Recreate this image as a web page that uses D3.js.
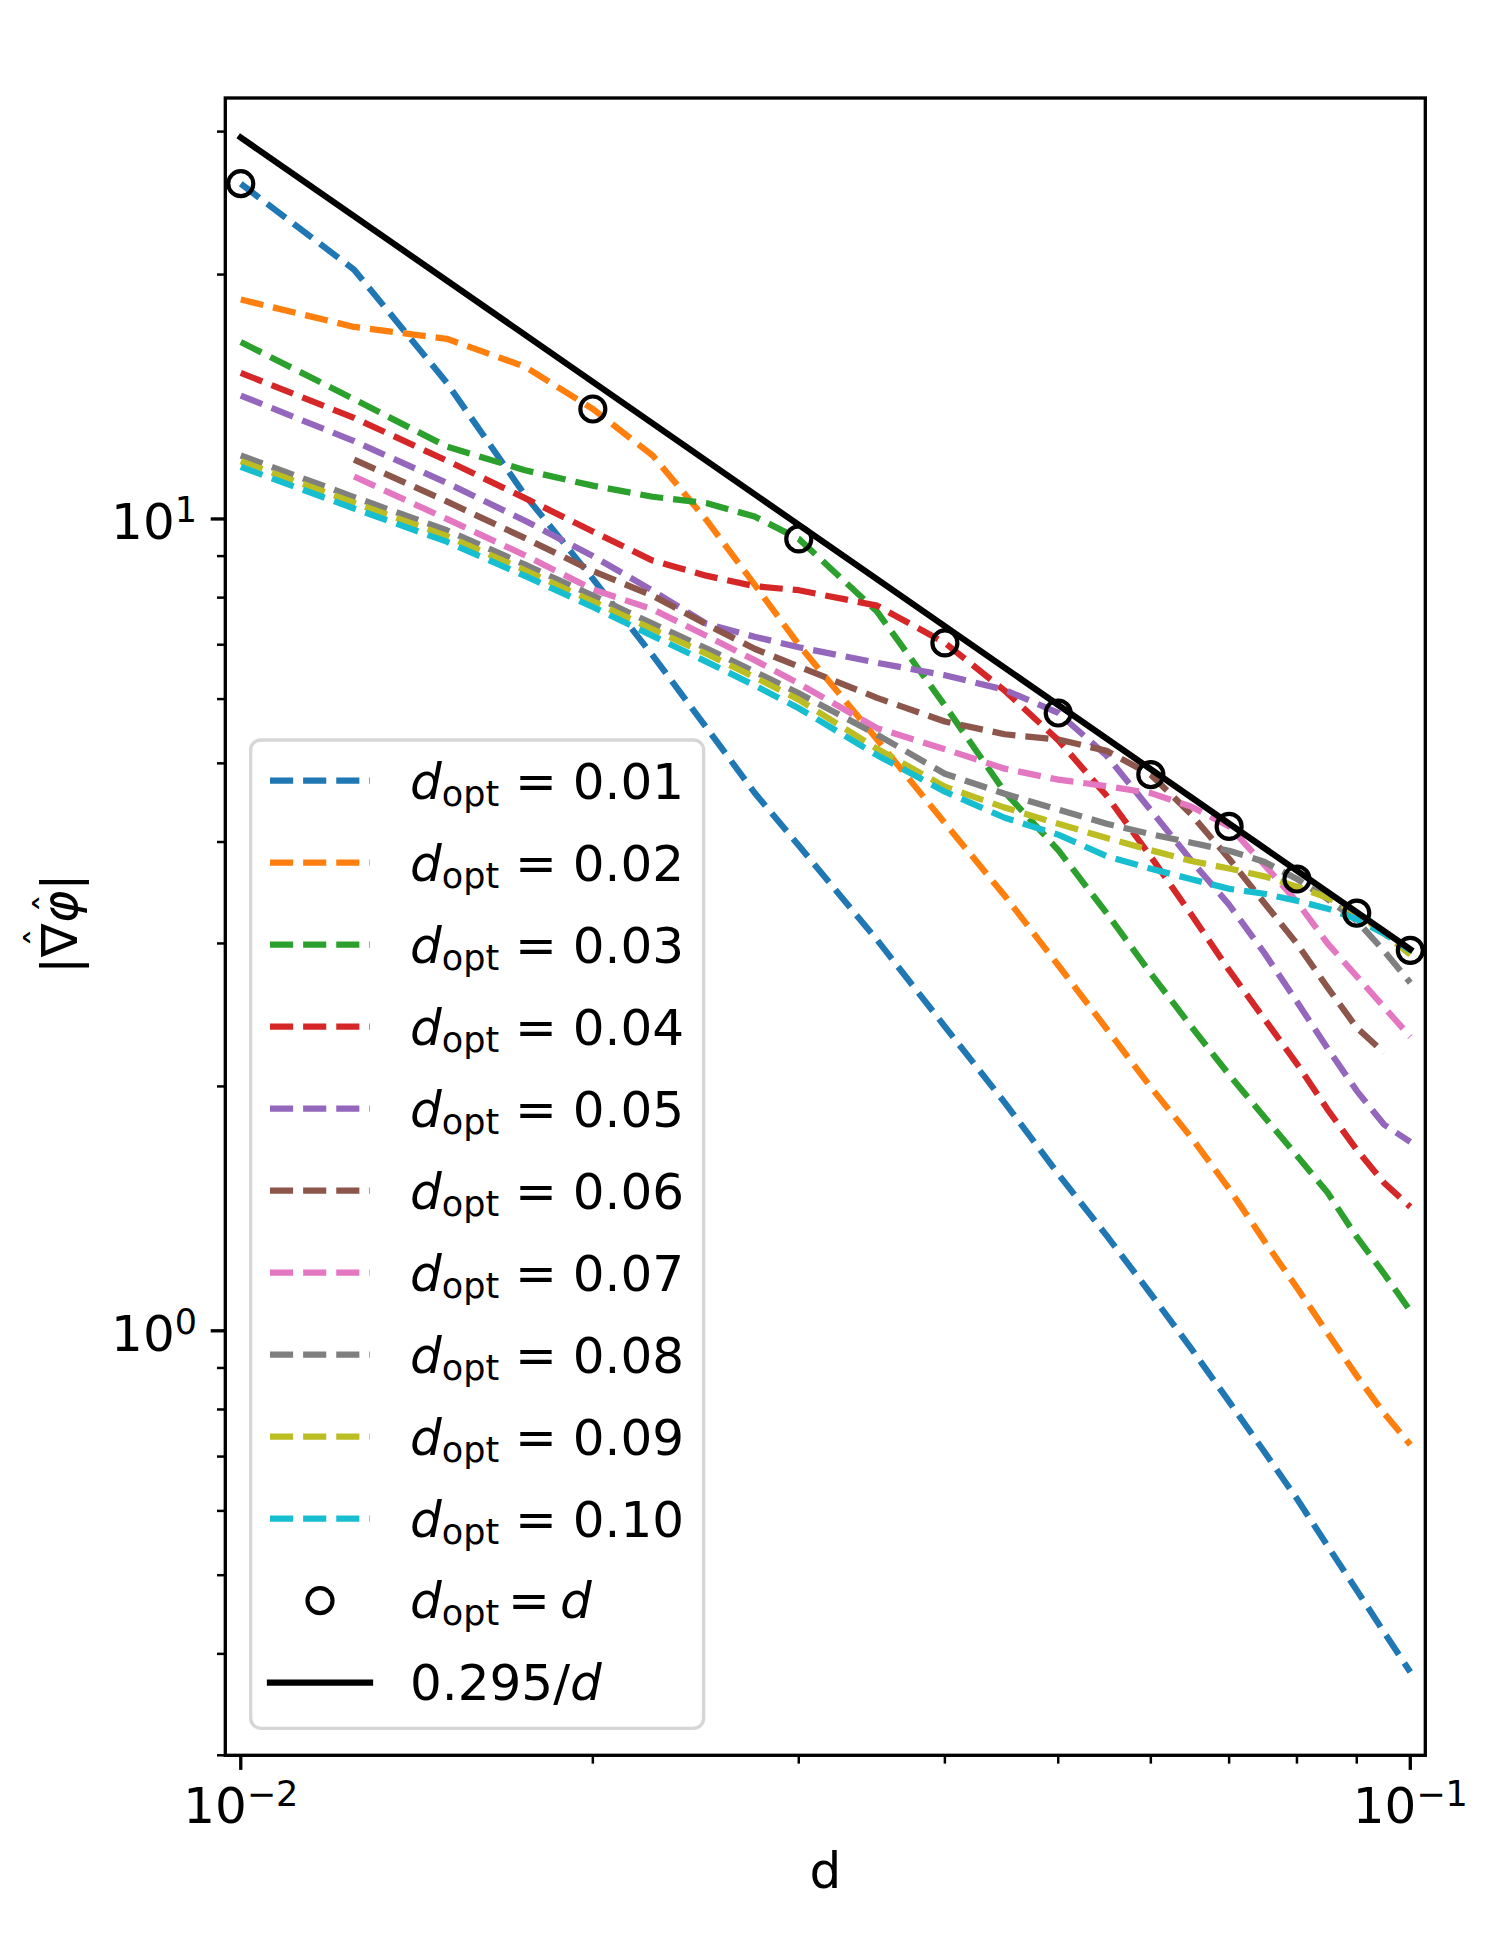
<!DOCTYPE html>
<html>
<head>
<meta charset="utf-8">
<script src="https://cdn.jsdelivr.net/npm/d3@7/dist/d3.min.js"></script>
<style>
  html,body{margin:0;padding:0;background:#fff;}
  svg{display:block;}
  text{font-family:"DejaVu Sans",sans-serif;white-space:pre;fill:#000;}
</style>
</head>
<body>
<svg id="fig" width="1500" height="1950" xmlns="http://www.w3.org/2000/svg"></svg>
<script>
// ---------------- data ----------------
const dGrid = [0.01,0.0125,0.015,0.0175,0.02,0.0225,0.025,0.0275,0.03,0.035,0.04,0.045,0.05,0.055,0.06,0.065,0.07,0.075,0.08,0.085,0.09,0.095,0.1];
const dOptLabels = ["0.01","0.02","0.03","0.04","0.05","0.06","0.07","0.08","0.09","0.10"];
const grad_d001 = [25.88,20.28,14.72,10.7,8.44,6.79,5.54,4.60,3.96,3.03,2.37,1.91,1.56,1.31,1.11,0.95,0.818,0.710,0.621,0.543,0.479,0.425,0.380];
const grad_d002 = [18.63,17.24,16.67,15.4,13.66,11.97,9.98,8.30,7.0,5.35,4.22,3.435,2.82,2.355,1.995,1.729,1.496,1.291,1.130,0.993,0.880,0.791,0.724];
const grad_d003 = [16.52,14.04,12.28,11.48,10.99,10.65,10.46,10.07,9.45,7.69,5.89,4.61,3.91,3.27,2.754,2.369,2.067,1.835,1.643,1.479,1.305,1.175,1.058];
const grad_d004 = [15.13,13.32,11.80,10.61,9.65,8.886,8.514,8.265,8.17,7.82,7.035,6.145,5.34,4.56,3.837,3.254,2.781,2.424,2.132,1.872,1.671,1.521,1.421];
const grad_d005 = [14.19,12.47,11.08,9.95,9.0,8.16,7.43,7.16,6.95,6.65,6.42,6.16,5.768,5.11,4.377,3.793,3.348,2.922,2.543,2.226,1.975,1.794,1.709];
const grad_d006 = [null,11.83,10.51,9.47,8.626,8.045,7.42,6.92,6.58,6.02,5.63,5.43,5.35,5.18,4.842,4.322,3.815,3.367,2.998,2.646,2.362,2.200,null];
const grad_d007 = [null,11.28,10.0,9.02,8.19,7.74,7.18,6.70,6.27,5.525,5.205,4.925,4.774,4.687,4.595,4.422,4.181,3.751,3.377,2.998,2.733,2.503,2.302];
const grad_d008 = [11.97,10.64,9.685,8.785,8.045,7.43,6.93,6.485,6.10,5.425,4.855,4.587,4.385,4.213,4.090,3.992,3.902,3.782,3.602,3.401,3.200,2.935,2.684];
const grad_d009 = [11.78,10.47,9.53,8.645,7.915,7.313,6.823,6.385,5.99,5.21,4.68,4.41,4.213,4.045,3.908,3.79,3.711,3.629,3.524,3.415,3.27,3.084,2.906];
const grad_d010 = [11.59,10.30,9.376,8.507,7.79,7.178,6.672,6.237,5.846,5.117,4.613,4.285,4.085,3.842,3.709,3.599,3.503,3.454,3.386,3.311,3.214,3.084,2.942];
const circleD = [0.01,0.02,0.03,0.04,0.05,0.06,0.07,0.08,0.09,0.1];
const circleGrad = [25.88,13.66,9.45,7.035,5.768,4.842,4.181,3.602,3.270,2.942];
const fitD = [0.01,0.1];
const fitGrad = [29.5,2.95];
const fitLabel = "0.295/";
const xMajorTicks = [0.01,0.1];
const xMajorExp = ["\u22122","\u22121"];
const xMinorTicks = [0.02,0.03,0.04,0.05,0.06,0.07,0.08,0.09];
const yMajorTicks = [1,10];
const yMajorExp = ["0","1"];
const yMinorTicks = [0.3,0.4,0.5,0.6,0.7,0.8,0.9,2,3,4,5,6,7,8,9,20,30];
const colors = ["#1f77b4","#ff7f0e","#2ca02c","#d62728","#9467bd","#8c564b","#e377c2","#7f7f7f","#bcbd22","#17becf"];

// ---------------- layout ----------------
const axL = 225.3, axR = 1425.3, axT = 98, axB = 1755.3;
const LW = 6.25, SPINE = 3.33, FS = 50, SUB = 35;
const x = d3.scaleLog().domain([0.0097,0.103]).range([axL,axR]);
const y = d3.scaleLog().domain([0.3,33]).range([axB,axT]);

const svg = d3.select("#fig");
svg.append("rect").attr("width",1500).attr("height",1950).attr("fill","#fff");

svg.append("defs").append("clipPath").attr("id","axclip")
  .append("rect").attr("x",axL).attr("y",axT).attr("width",axR-axL).attr("height",axB-axT);

const allSeries = [grad_d001,grad_d002,grad_d003,grad_d004,grad_d005,grad_d006,grad_d007,grad_d008,grad_d009,grad_d010];
const table = allSeries.map(vals => dGrid.map((d,i)=>({d:d, v:vals[i]})));

const line = d3.line().defined(p => p.v != null).x(p => x(p.d)).y(p => y(p.v));
const plot = svg.append("g").attr("clip-path","url(#axclip)");

plot.selectAll("path.series").data(table).join("path")
  .attr("class","series")
  .attr("d", line)
  .attr("fill","none")
  .attr("stroke",(d,i)=>colors[i])
  .attr("stroke-width",LW)
  .attr("stroke-dasharray","23.125,10")
  .attr("stroke-linecap","butt")
  .attr("stroke-linejoin","round");

plot.selectAll("circle.opt").data(circleD.map((d,i)=>({d:d,v:circleGrad[i]}))).join("circle")
  .attr("class","opt")
  .attr("cx",p=>x(p.d)).attr("cy",p=>y(p.v)).attr("r",12.5)
  .attr("fill","none").attr("stroke","#000").attr("stroke-width",4.17);

plot.append("path")
  .attr("d", line(fitD.map((d,i)=>({d:d,v:fitGrad[i]}))))
  .attr("fill","none").attr("stroke","#000").attr("stroke-width",LW)
  .attr("stroke-linecap","square");

// ---------------- axes ----------------
function styleTicks(g, w){ g.select(".domain").remove(); g.selectAll(".tick line").attr("stroke","#000").attr("stroke-width",w); g.selectAll(".tick text").remove(); }

svg.append("g").attr("transform",`translate(0,${axB})`)
  .call(d3.axisBottom(x).tickValues(xMajorTicks).tickSize(14.58).tickFormat("").offset(0))
  .call(g=>styleTicks(g,SPINE));
svg.append("g").attr("transform",`translate(0,${axB})`)
  .call(d3.axisBottom(x).tickValues(xMinorTicks).tickSize(8.33).tickFormat("").offset(0))
  .call(g=>styleTicks(g,2.5));
svg.append("g").attr("transform",`translate(${axL},0)`)
  .call(d3.axisLeft(y).tickValues(yMajorTicks).tickSize(14.58).tickFormat("").offset(0))
  .call(g=>styleTicks(g,SPINE));
svg.append("g").attr("transform",`translate(${axL},0)`)
  .call(d3.axisLeft(y).tickValues(yMinorTicks).tickSize(8.33).tickFormat("").offset(0))
  .call(g=>styleTicks(g,2.5));

// spines
svg.append("rect").attr("x",axL).attr("y",axT).attr("width",axR-axL).attr("height",axB-axT)
  .attr("fill","none").attr("stroke","#000").attr("stroke-width",SPINE).attr("stroke-linejoin","miter");

// tick labels
xMajorTicks.forEach((d,i)=>{
  const t = svg.append("text").attr("x",x(d)).attr("y",1823.3).attr("text-anchor","middle").style("font-size",FS+"px");
  t.append("tspan").text("10");
  t.append("tspan").attr("dy",-17.5).style("font-size",SUB+"px").text(xMajorExp[i]);
});
yMajorTicks.forEach((d,i)=>{
  const t = svg.append("text").attr("x",197).attr("y",y(d)+20).attr("text-anchor","end").style("font-size",FS+"px");
  t.append("tspan").text("10");
  t.append("tspan").attr("dy",-17).style("font-size",SUB+"px").text(yMajorExp[i]);
});

// axis labels
svg.append("text").attr("x",(axL+axR)/2).attr("y",1888).attr("text-anchor","middle").style("font-size",FS+"px").text("d");
const yl = svg.append("g").attr("transform","translate(76.5,923.7) rotate(-90)");
const ylt = yl.append("text").attr("x",0).attr("y",0).attr("text-anchor","middle").style("font-size",FS+"px");
ylt.append("tspan").text("|\u2207");
ylt.append("tspan").style("font-style","italic").text("\u03C6");
ylt.append("tspan").text("|");
yl.append("text").attr("x",-13.8).attr("y",-24).attr("text-anchor","middle").style("font-size","38px").text("\u02C6");
yl.append("text").attr("x",20.4).attr("y",-15).attr("text-anchor","middle").style("font-size","38px").text("\u02C6");

// ---------------- legend ----------------
const leg = svg.append("g");
leg.append("rect").attr("x",250.7).attr("y",740).attr("width",452.9).attr("height",988.3).attr("rx",10).attr("ry",10)
  .attr("fill","#fff").attr("fill-opacity",0.8)
  .attr("stroke","#cccccc").attr("stroke-opacity",0.8).attr("stroke-width",SPINE);
const rowY = i => 780.7 + 82.0*i;
const hx0 = 270, hx1 = 370, tx = 410;
dOptLabels.forEach((lab,i)=>{
  const yy = rowY(i);
  leg.append("line").attr("x1",hx0).attr("x2",hx1).attr("y1",yy).attr("y2",yy)
    .attr("stroke",colors[i]).attr("stroke-width",LW).attr("stroke-dasharray","23.125,10").attr("stroke-linecap","butt");
  const t = leg.append("text").attr("x",tx).attr("y",yy+18.3).style("font-size",FS+"px");
  t.append("tspan").style("font-style","italic").text("d");
  t.append("tspan").attr("dy",7).style("font-size",SUB+"px").text("opt");
  t.append("tspan").attr("dy",-7).text(" = "+lab);
});
{
  const yy = rowY(10);
  leg.append("circle").attr("cx",(hx0+hx1)/2).attr("cy",yy).attr("r",12.5).attr("fill","none").attr("stroke","#000").attr("stroke-width",4.17);
  const t = leg.append("text").attr("x",tx).attr("y",yy+17.5).style("font-size",FS+"px");
  t.append("tspan").style("font-style","italic").text("d");
  t.append("tspan").attr("dy",7).style("font-size",SUB+"px").text("opt");
  t.append("tspan").attr("dy",-7).attr("dx",9).text("=");
  t.append("tspan").attr("dx",10).style("font-style","italic").text("d");
}
{
  const yy = rowY(11);
  leg.append("line").attr("x1",hx0).attr("x2",hx1).attr("y1",yy).attr("y2",yy)
    .attr("stroke","#000").attr("stroke-width",LW).attr("stroke-linecap","square");
  const t = leg.append("text").attr("x",tx).attr("y",yy+17.3).style("font-size",FS+"px");
  t.append("tspan").text(fitLabel);
  t.append("tspan").style("font-style","italic").text("d");
}
</script>
</body>
</html>
